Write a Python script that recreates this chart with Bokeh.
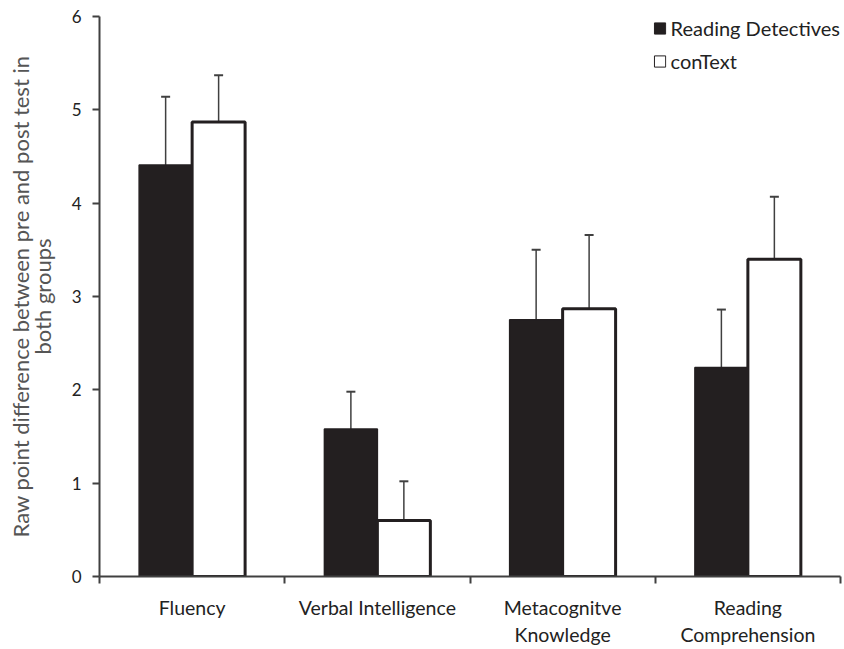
from bokeh.plotting import figure
from bokeh.models import FixedTicker, Range1d, Legend, LegendItem, ColumnDataSource, LinearAxis
from bokeh.embed import file_html
from bokeh.resources import INLINE

categories = ["Fluency", "Verbal Intelligence", "Metacognitve\nKnowledge", "Reading\nComprehension"]
rd_values = [4.41, 1.58, 2.75, 2.24]
rd_err_top = [5.14, 1.98, 3.50, 2.86]
ct_values = [4.87, 0.60, 2.87, 3.40]
ct_err_top = [5.37, 1.02, 3.66, 4.07]
series_names = ["Reading Detectives", "conText"]
y_ticks = [0, 1, 2, 3, 4, 5, 6]
y_label_lines = ["Raw point difference between pre and post test in", "both groups"]

FONT = "Lato"
DARK = "#231f20"
AXIS = "#404040"
NAN = float("nan")

idx = list(range(len(categories)))
bw = 0.286
rd_x = [i + 0.5 - bw / 2 for i in idx]
ct_x = [i + 0.5 + bw / 2 for i in idx]

p = figure(width=844, height=649, output_backend="svg", toolbar_location=None,
           x_range=Range1d(0, len(categories)), y_range=Range1d(0, 6),
           min_border_left=99, min_border_right=4, min_border_top=16, min_border_bottom=73)
p.xgrid.visible = False
p.ygrid.visible = False
p.outline_line_color = None
p.background_fill_color = "white"

src_rd = ColumnDataSource(dict(x=rd_x, top=rd_values, et=rd_err_top))
src_ct = ColumnDataSource(dict(x=ct_x, top=ct_values, et=ct_err_top))

# error bars (upper only)
for src in (src_rd, src_ct):
    p.segment(x0="x", y0="top", x1="x", y1="et", source=src, line_color=AXIS, line_width=1.5)
    p.scatter(x="x", y="et", source=src, marker="dash", size=9, line_color=AXIS, line_width=2)

p.vbar(x="x", top="top", bottom=0, width=bw, source=src_rd, fill_color=DARK,
       line_color=DARK, line_width=1.5)
p.vbar(x="x", top="top", bottom=0, width=bw, source=src_ct, fill_color="white",
       line_color=DARK, line_width=3)

# legend proxies (not drawn in the plot area)
lg_rd = p.vbar(x=[NAN], top=[NAN], width=bw, fill_color=DARK, line_color=DARK, line_width=1)
lg_ct = p.vbar(x=[NAN], top=[NAN], width=bw, fill_color="white", line_color=DARK, line_width=1)
legend = Legend(items=[LegendItem(label=series_names[0], renderers=[lg_rd]),
                       LegendItem(label=series_names[1], renderers=[lg_ct])],
                location="top_right", margin=0, padding=0, spacing=9,
                glyph_width=14, glyph_height=14, label_height=18, label_standoff=4,
                border_line_color=None, background_fill_alpha=0,
                label_text_font=FONT, label_text_font_size="20px", label_text_color="#222222")
p.add_layout(legend)

# y axis
p.yaxis.ticker = FixedTicker(ticks=y_ticks)
p.yaxis.axis_line_color = AXIS
p.yaxis.axis_line_width = 2
p.yaxis.major_tick_line_color = AXIS
p.yaxis.major_tick_line_width = 2
p.yaxis.major_tick_out = 7
p.yaxis.major_tick_in = 0
p.yaxis.minor_tick_line_color = None
p.yaxis.major_label_text_font = FONT
p.yaxis.major_label_text_font_size = "17px"
p.yaxis.major_label_text_color = "#222222"
p.yaxis.major_label_standoff = 11
p.yaxis.axis_label = y_label_lines[1]
p.yaxis.axis_label_text_font = FONT
p.yaxis.axis_label_text_font_size = "22px"
p.yaxis.axis_label_text_font_style = "normal"
p.yaxis.axis_label_text_color = "#555555"
p.yaxis.axis_label_standoff = 13

# outer, tick-less axis carrying the first line of the y title
outer = LinearAxis(ticker=FixedTicker(ticks=[]), axis_label=y_label_lines[0],
                   axis_line_color=None, major_tick_line_color=None, minor_tick_line_color=None,
                   major_tick_out=0, major_tick_in=0, minor_tick_out=0, minor_tick_in=0,
                   major_label_standoff=0, axis_label_standoff=-8,
                   axis_label_text_font=FONT, axis_label_text_font_size="22px",
                   axis_label_text_font_style="normal", axis_label_text_color="#555555")
p.add_layout(outer, "left")

# x axis: labels at centres, ticks at boundaries
p.xaxis.ticker = FixedTicker(ticks=[i + 0.5 for i in idx], minor_ticks=list(range(len(categories) + 1)))
p.xaxis.major_label_overrides = {i + 0.5: c for i, c in zip(idx, categories)}
p.xaxis.major_tick_line_color = None
p.xaxis.minor_tick_line_color = AXIS
p.xaxis.minor_tick_line_width = 2
p.xaxis.minor_tick_out = 7
p.xaxis.minor_tick_in = 0
p.xaxis.axis_line_color = AXIS
p.xaxis.axis_line_width = 2
p.xaxis.major_label_text_font = FONT
p.xaxis.major_label_text_font_size = "19.5px"
p.xaxis.major_label_text_color = "#222222"
p.xaxis.major_label_standoff = 12

open("out.html", "w").write(file_html(p, INLINE))
